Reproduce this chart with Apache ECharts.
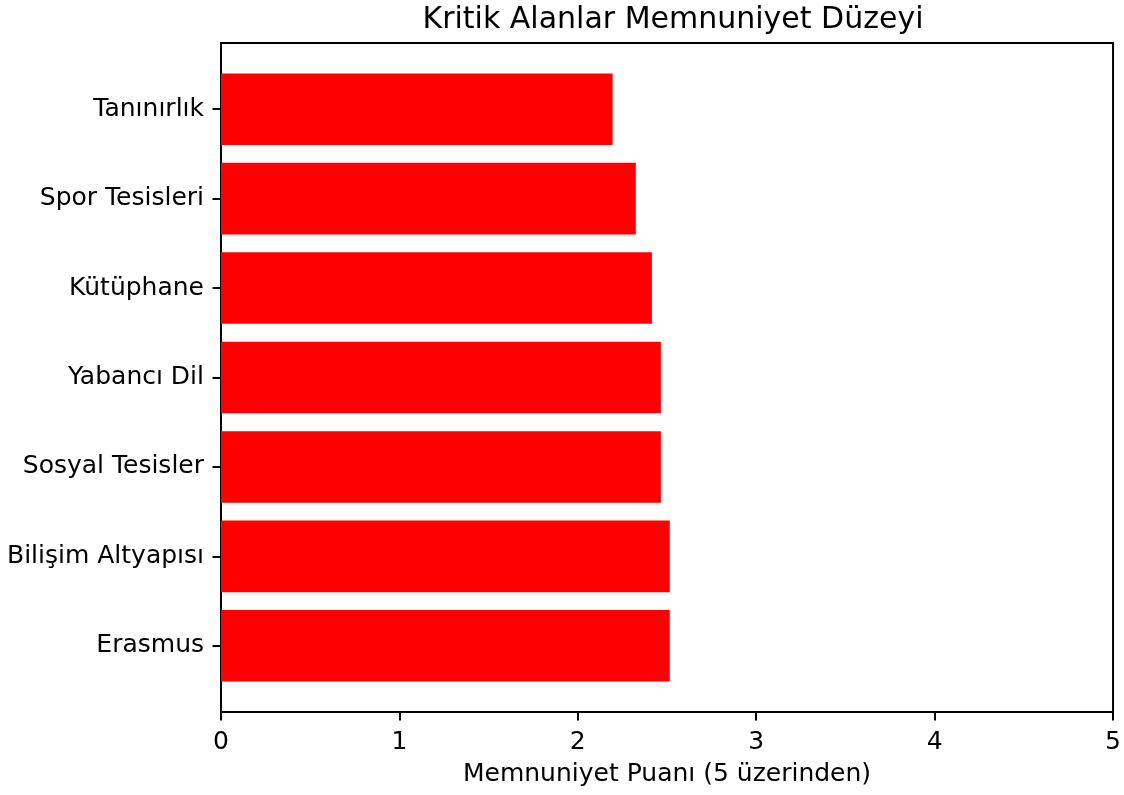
<!DOCTYPE html>
<html>
<head>
<meta charset="utf-8">
<script src="https://cdn.jsdelivr.net/npm/echarts@6/dist/echarts.min.js"></script>
<style>
  html, body { margin: 0; padding: 0; background: #fff; }
  #chart { width: 1124px; height: 795px; }
</style>
</head>
<body>
<div id="chart"></div>
<script>
// bottom to top, as the axis draws them
const categories = ['Erasmus', 'Bilişim Altyapısı', 'Sosyal Tesisler', 'Yabancı Dil', 'Kütüphane', 'Spor Tesisleri', 'Tanınırlık']
const scores = [2.51, 2.51, 2.46, 2.46, 2.41, 2.32, 2.19]
const xTicks = [0, 1, 2, 3, 4, 5]

const font = 'DejaVu Sans'
const chart = echarts.init(document.getElementById('chart'))

chart.setOption({
  backgroundColor: '#fff',
  animation: false,
  title: {
    text: 'Kritik Alanlar Memnuniyet Düzeyi',
    left: 668,
    top: 0,
    textAlign: 'center',
    textStyle: { fontFamily: font, fontSize: 30, fontWeight: 'normal', color: '#000' },
  },
  grid: [
    // outer frame, matplotlib keeps some padding above and below the bars
    { left: 221, top: 43, width: 894, height: 669, show: true, borderColor: '#000', borderWidth: 2, backgroundColor: 'transparent' },
    // bar area
    { left: 221, top: 64.5, width: 894, height: 626 },
  ],
  xAxis: [
    {
      gridIndex: 0,
      type: 'value',
      min: xTicks[0],
      max: xTicks[xTicks.length - 1],
      interval: 1,
      name: 'Memnuniyet Puanı (5 üzerinden)',
      nameLocation: 'middle',
      nameGap: 50,
      nameTextStyle: { fontFamily: font, fontSize: 25, color: '#000' },
      axisLine: { show: true, lineStyle: { color: '#000', width: 2 } },
      axisTick: { show: true, length: 8.5, lineStyle: { color: '#000', width: 2 } },
      axisLabel: { fontFamily: font, fontSize: 25, color: '#000', margin: 18 },
      splitLine: { show: false },
    },
    { gridIndex: 1, type: 'value', min: 0, max: 5, show: false },
  ],
  yAxis: [
    { gridIndex: 0, type: 'value', show: false },
    {
      gridIndex: 1,
      type: 'category',
      data: categories,
      axisLine: { show: false },
      axisTick: { show: true, alignWithLabel: true, length: 8.5, lineStyle: { color: '#000', width: 2 } },
      axisLabel: { fontFamily: font, fontSize: 25, color: '#000', margin: 17, padding: [10, 0, 0, 0] },
      splitLine: { show: false },
    },
  ],
  series: [
    {
      type: 'bar',
      xAxisIndex: 1,
      yAxisIndex: 1,
      data: scores,
      barWidth: '80%',
      itemStyle: { color: '#ff0000' },
    },
  ],
})
</script>
</body>
</html>
